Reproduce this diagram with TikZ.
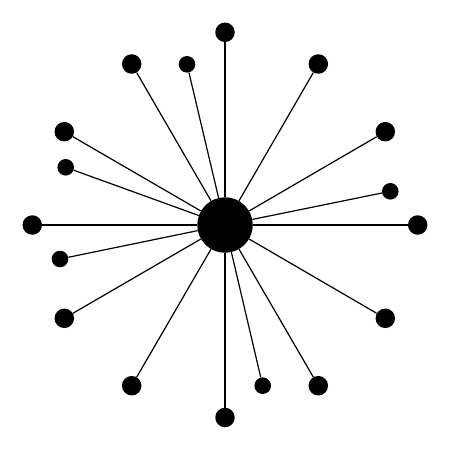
\documentclass[tikz,border=0pt]{standalone}
\begin{document}
\begin{tikzpicture}[x=1pt,y=-1pt,
  hub/.style={circle,fill=black,inner sep=0pt,minimum size=55.5pt},
  bigdot/.style={circle,fill=black,inner sep=0pt,minimum size=19.5pt},
  smalldot/.style={circle,fill=black,inner sep=0pt,minimum size=16.6pt},
  spoke/.style={line width=1.2pt,black}]
\useasboundingbox (0,0) rectangle (450,450);
\node[hub] (c) at (225,225) {};
\node[bigdot] (n1) at (225,32.3) {};
\node[bigdot] (n2) at (318.3,64) {};
\node[bigdot] (n3) at (385.3,131.7) {};
\node[bigdot] (n4) at (417.7,225) {};
\node[bigdot] (n5) at (385.3,318.3) {};
\node[bigdot] (n6) at (318.3,385.7) {};
\node[bigdot] (n7) at (225,417.5) {};
\node[bigdot] (n8) at (131.7,385.7) {};
\node[bigdot] (n9) at (64.3,318.3) {};
\node[bigdot] (n10) at (32.3,225) {};
\node[bigdot] (n11) at (64.3,131.7) {};
\node[bigdot] (n12) at (131.7,64) {};
\node[smalldot] (s1) at (187,64.3) {};
\node[smalldot] (s2) at (65.7,167.3) {};
\node[smalldot] (s3) at (60,259) {};
\node[smalldot] (s4) at (262.7,385.7) {};
\node[smalldot] (s5) at (390.3,191.3) {};
\foreach \n in {n1,n2,n3,n4,n5,n6,n7,n8,n9,n10,n11,n12,s1,s2,s3,s4,s5}
  \draw[spoke] (c) -- (\n);
\end{tikzpicture}
\end{document}
